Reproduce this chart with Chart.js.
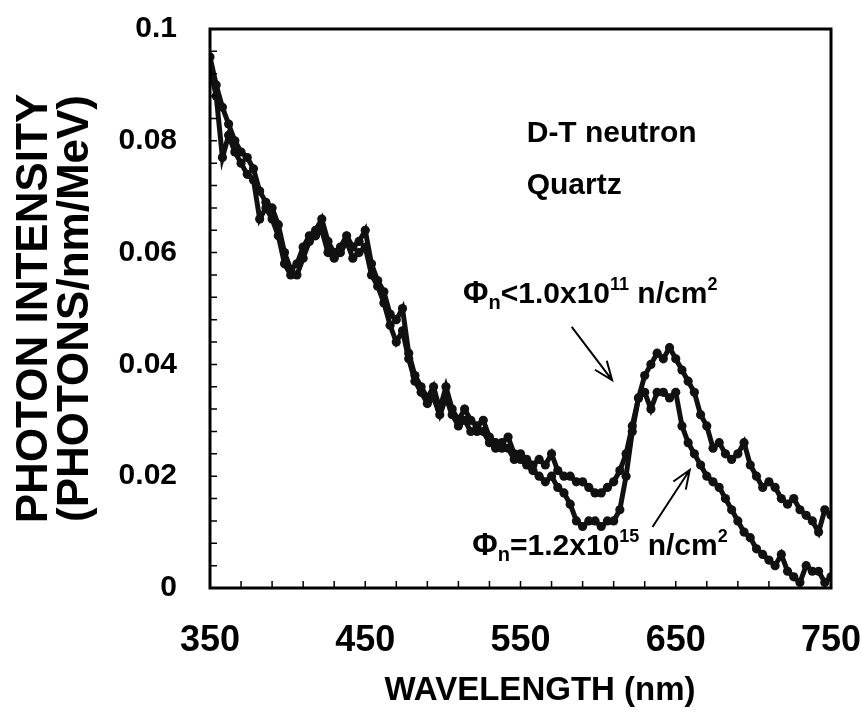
<!DOCTYPE html>
<html lang="en">
<head>
<meta charset="UTF-8">
<title>Photon intensity vs wavelength</title>
<script src="https://cdn.jsdelivr.net/npm/chart.js"></script>
<style>
  body { margin: 0; background: #fff; }
  #wrap { width: 861px; height: 720px; }
</style>
</head>
<body>
<div id="wrap"><canvas id="spectrum" width="861" height="720"></canvas></div>
<script>
// wavelength (nm) of each sample
const wavelengths = [350, 354, 358, 362, 366, 370, 374, 378, 382, 386,
  390, 394, 398, 402, 406, 410, 414, 418, 422, 426,
  430, 434, 438, 442, 446, 450, 454, 458, 462, 466,
  470, 474, 478, 482, 486, 490, 494, 498, 502, 506,
  510, 514, 518, 522, 526, 530, 534, 538, 542, 546,
  550, 554, 558, 562, 566, 570, 574, 578, 582, 586,
  590, 594, 598, 602, 606, 610, 614, 618, 622, 626,
  630, 634, 638, 642, 646, 650, 654, 658, 662, 666,
  670, 674, 678, 682, 686, 690, 694, 698, 702, 706,
  710, 714, 718, 722, 726, 730, 734, 738, 742, 746, 750];

// fluence < 1.0e11 n/cm2
const lowFluence = [0.095, 0.090, 0.086, 0.083, 0.080, 0.078, 0.077, 0.075, 0.071, 0.069,
  0.068, 0.065, 0.060, 0.057, 0.058, 0.061, 0.063, 0.064, 0.066, 0.062,
  0.060, 0.061, 0.063, 0.061, 0.062, 0.064, 0.058, 0.055, 0.053, 0.049,
  0.048, 0.050, 0.042, 0.038, 0.036, 0.034, 0.036, 0.032, 0.036, 0.032,
  0.030, 0.032, 0.030, 0.029, 0.030, 0.027, 0.026, 0.026, 0.027, 0.024,
  0.024, 0.023, 0.022, 0.023, 0.022, 0.024, 0.021, 0.020, 0.020, 0.019,
  0.019, 0.018, 0.017, 0.017, 0.018, 0.019, 0.021, 0.024, 0.029, 0.034,
  0.038, 0.040, 0.042, 0.041, 0.043, 0.041, 0.039, 0.037, 0.035, 0.031,
  0.029, 0.025, 0.026, 0.024, 0.023, 0.024, 0.026, 0.022, 0.020, 0.018,
  0.019, 0.018, 0.016, 0.015, 0.016, 0.014, 0.013, 0.012, 0.010, 0.014, 0.013];

// fluence = 1.2e15 n/cm2
const highFluence = [0.093, 0.088, 0.077, 0.081, 0.078, 0.076, 0.074, 0.073, 0.066, 0.068,
  0.066, 0.063, 0.058, 0.056, 0.056, 0.059, 0.062, 0.063, 0.064, 0.060,
  0.059, 0.060, 0.062, 0.059, 0.060, 0.061, 0.056, 0.054, 0.051, 0.047,
  0.044, 0.046, 0.041, 0.037, 0.035, 0.033, 0.034, 0.031, 0.034, 0.031,
  0.029, 0.030, 0.028, 0.028, 0.028, 0.026, 0.025, 0.025, 0.025, 0.023,
  0.023, 0.022, 0.021, 0.020, 0.019, 0.020, 0.018, 0.017, 0.015, 0.012,
  0.011, 0.012, 0.012, 0.011, 0.012, 0.012, 0.014, 0.020, 0.028, 0.034,
  0.035, 0.032, 0.035, 0.035, 0.034, 0.035, 0.029, 0.026, 0.024, 0.022,
  0.020, 0.019, 0.018, 0.016, 0.014, 0.012, 0.010, 0.009, 0.007, 0.006,
  0.005, 0.004, 0.006, 0.003, 0.002, 0.001, 0.004, 0.003, 0.003, 0.001, 0.002];

const xTickLabels = ['350', '450', '550', '650', '750'];
const yTickLabels = ['0', '0.02', '0.04', '0.06', '0.08', '0.1'];
const yTitleLines = ['PHOTON INTENSITY', '(PHOTONS/nm/MeV)'];
const xTitle = 'WAVELENGTH (nm)';

const FONT = '"Liberation Sans", Arial, Helvetica, sans-serif';
Chart.defaults.font.family = FONT;
Chart.defaults.color = '#000';

function toPoints(ys) {
  return wavelengths.map((w, i) => ({ x: w, y: ys[i] }));
}

// draws a run of text pieces (for sub/superscripts), left to right from x
function drawRich(ctx, x, y, parts) {
  ctx.textBaseline = 'alphabetic';
  ctx.textAlign = 'left';
  parts.forEach(p => {
    ctx.font = 'bold ' + p.size + 'px ' + FONT;
    ctx.fillText(p.t, x, y + (p.dy || 0));
    x += ctx.measureText(p.t).width;
  });
}

function drawArrow(ctx, x1, y1, x2, y2) {
  const a = Math.atan2(y2 - y1, x2 - x1);
  const len = 20, spread = 0.38;
  ctx.beginPath();
  ctx.moveTo(x1, y1);
  ctx.lineTo(x2, y2);
  ctx.moveTo(x2 - len * Math.cos(a - spread), y2 - len * Math.sin(a - spread));
  ctx.lineTo(x2, y2);
  ctx.lineTo(x2 - len * Math.cos(a + spread), y2 - len * Math.sin(a + spread));
  ctx.stroke();
}

// tick labels must not push the plot area in: keep the frame where the layout puts it
function fixScale(size, prop) {
  return s => {
    s[prop] = size;
    s.paddingLeft = s.paddingRight = s.paddingTop = s.paddingBottom = 0;
  };
}

const decorations = {
  id: 'decorations',
  afterDraw(chart) {
    const { ctx, chartArea: a, scales: { x, y } } = chart;
    ctx.save();
    ctx.strokeStyle = '#000';
    ctx.fillStyle = '#000';

    // inward tick marks
    ctx.lineWidth = 1.5;
    ctx.beginPath();
    x.ticks.forEach(t => {
      const px = x.getPixelForValue(t.value);
      ctx.moveTo(px, a.bottom);
      ctx.lineTo(px, a.bottom - 7);
    });
    y.ticks.forEach(t => {
      const py = y.getPixelForValue(t.value);
      ctx.moveTo(a.left, py);
      ctx.lineTo(a.left + 7, py);
    });
    ctx.stroke();

    // frame
    ctx.lineWidth = 3;
    ctx.strokeRect(a.left, a.top, a.right - a.left, a.bottom - a.top);

    // x axis title
    ctx.font = 'bold 33px ' + FONT;
    ctx.textAlign = 'center';
    ctx.textBaseline = 'middle';
    ctx.fillText(xTitle, 540, 691);

    // annotations, placed in data coordinates
    const X = v => x.getPixelForValue(v);
    const Y = v => y.getPixelForValue(v);
    drawRich(ctx, X(554), Y(0.0798), [{ t: 'D-T neutron', size: 30 }]);
    drawRich(ctx, X(554), Y(0.0705), [{ t: 'Quartz', size: 30 }]);

    drawRich(ctx, X(513), Y(0.051), [
      { t: '\u03A6', size: 31 }, { t: 'n', size: 20, dy: 6 },
      { t: '<1.0x10', size: 30 }, { t: '11', size: 18, dy: -13 },
      { t: ' n/cm', size: 30 }, { t: '2', size: 18, dy: -13 }
    ]);
    drawRich(ctx, X(519), Y(0.0059), [
      { t: '\u03A6', size: 31 }, { t: 'n', size: 20, dy: 6 },
      { t: '=1.2x10', size: 30 }, { t: '15', size: 18, dy: -13 },
      { t: ' n/cm', size: 30 }, { t: '2', size: 18, dy: -13 }
    ]);

    ctx.lineWidth = 2;
    drawArrow(ctx, X(583), Y(0.0467), X(609), Y(0.0372));
    drawArrow(ctx, X(635), Y(0.0109), X(659), Y(0.0211));
    ctx.restore();
  }
};

const dotStyle = {
  showLine: true,
  borderColor: '#111',
  borderWidth: 5,
  pointRadius: 4.6,
  pointBackgroundColor: '#111',
  pointBorderWidth: 0,
  pointHoverRadius: 4.6
};

new Chart(document.getElementById('spectrum'), {
  type: 'scatter',
  data: {
    datasets: [
      Object.assign({ label: 'Phi_n < 1.0x10^11 n/cm^2', data: toPoints(lowFluence) }, dotStyle),
      Object.assign({ label: 'Phi_n = 1.2x10^15 n/cm^2', data: toPoints(highFluence) }, dotStyle)
    ]
  },
  options: {
    responsive: false,
    animation: false,
    layout: { padding: { top: 29, right: 30, left: 0, bottom: 0 }, autoPadding: false },
    plugins: { legend: { display: false }, tooltip: { enabled: false } },
    scales: {
      x: {
        type: 'linear',
        min: 350,
        max: 750,
        afterFit: fixScale(132, 'height'),
        grid: { display: false, drawTicks: false },
        border: { display: false },
        ticks: {
          stepSize: 20,
          autoSkip: false,
          maxRotation: 0,
          padding: 35,
          font: { size: 36, weight: 'bold', lineHeight: 1 },
          callback: v => xTickLabels.includes(String(v)) ? String(v) : ''
        }
      },
      y: {
        min: 0,
        max: 0.1,
        afterFit: fixScale(210, 'width'),
        grid: { display: false, drawTicks: false },
        border: { display: false },
        ticks: {
          stepSize: 0.004,
          autoSkip: false,
          padding: 33,
          font: { size: 30, weight: 'bold', lineHeight: 1 },
          callback: v => yTickLabels.find(l => Math.abs(Number(l) - v) < 1e-9) || ''
        },
        title: {
          display: true,
          text: yTitleLines,
          font: { size: 44, weight: 'bold', lineHeight: 0.93 },
          padding: { top: 14, bottom: 0 }
        }
      }
    }
  },
  plugins: [decorations]
});
</script>
</body>
</html>
